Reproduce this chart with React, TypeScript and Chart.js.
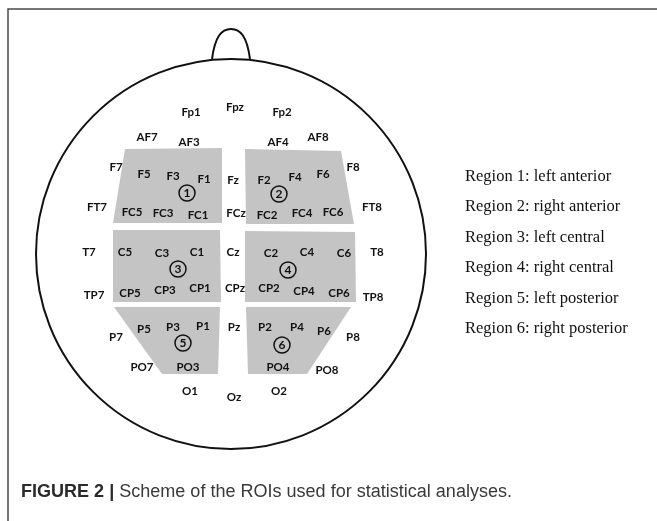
import React, { useEffect, useRef } from "react";
import { Chart, registerables } from "chart.js";

Chart.register(...registerables);

// Electrode montage (head-centred units, y up)
const electrodeNames = [
  "Fp1", "Fpz", "Fp2",
  "AF7", "AF3", "AF4", "AF8",
  "F7", "F5", "F3", "F1", "Fz", "F2", "F4", "F6", "F8",
  "FT7", "FC5", "FC3", "FC1", "FCz", "FC2", "FC4", "FC6", "FT8",
  "T7", "C5", "C3", "C1", "Cz", "C2", "C4", "C6", "T8",
  "TP7", "CP5", "CP3", "CP1", "CPz", "CP2", "CP4", "CP6", "TP8",
  "P7", "P5", "P3", "P1", "Pz", "P2", "P4", "P6", "P8",
  "PO7", "PO3", "PO4", "PO8",
  "O1", "Oz", "O2",
];
const electrodeX = [
  -40, 4, 51,
  -84, -42, 47, 87,
  -115, -87, -58, -27, 2, 33, 64, 92, 122,
  -134, -99, -68, -33, 5, 36, 71, 102, 141,
  -142, -106, -69, -34, 2, 40, 76, 113, 146,
  -137, -101, -66, -31, 4, 38, 73, 108, 142,
  -115, -87, -58, -28, 3, 34, 66, 93, 122,
  -89, -43, 47, 96,
  -41, 3, 48,
];
const electrodeY = [
  142, 147, 142,
  117, 112, 112, 117,
  87, 80, 78, 75, 74, 74, 77, 80, 87,
  47, 42, 41, 39, 41, 39, 41, 42, 47,
  2, 2, 1, 2, 2, 1, 2, 1, 2,
  -41, -39, -36, -34, -34, -34, -37, -39, -43,
  -83, -75, -73, -72, -73, -73, -73, -77, -83,
  -113, -113, -113, -116,
  -137, -143, -137,
];

// Regions of interest
const regionIds = ["1", "2", "3", "4", "5", "6"];
const regionMarkX = [-44, 48, -53, 57, -48, 51];
const regionMarkY = [61, 60, -15, -16, -89, -91];
const region1X = [-106, -9, -9, -118];
const region1Y = [105, 106, 31, 31];
const region2X = [14, 110, 123, 15];
const region2Y = [105, 103, 30, 30];
const region3X = [-118, -11, -10, -118];
const region3Y = [24, 24, -48, -48];
const region4X = [14, 124, 125, 14];
const region4Y = [23, 22, -48, -48];
const region5X = [-117, -11, -13, -69];
const region5Y = [-53, -53, -120, -120];
const region6X = [15, 120, 76, 17];
const region6Y = [-53, -53, -120, -120];
const legendLabels = [
  "Region 1: left anterior",
  "Region 2: right anterior",
  "Region 3: left central",
  "Region 4: right central",
  "Region 5: left posterior",
  "Region 6: right posterior",
];
const captionBold = "FIGURE 2 | ";
const captionText = "Scheme of the ROIs used for statistical analyses.";

// head outline
const headRadius = 195;
const noseHalfWidth = 19;
const noseTip = 225;

const zip = (xs: number[], ys: number[]) => xs.map((x, i) => ({ x, y: ys[i] }));

const regionPolys = [
  zip(region1X, region1Y),
  zip(region2X, region2Y),
  zip(region3X, region3Y),
  zip(region4X, region4Y),
  zip(region5X, region5Y),
  zip(region6X, region6Y),
];

const LABEL_FONT = "bold 11.5px Lato, 'Liberation Sans', sans-serif";

const drawPlugin = {
  id: "eegDraw",
  beforeDraw(chart: any) {
    const ctx = chart.ctx;
    ctx.save();
    ctx.fillStyle = "#ffffff";
    ctx.fillRect(0, 0, chart.width, chart.height);
    // frame
    ctx.strokeStyle = "#4a4a4a";
    ctx.lineWidth = 1.5;
    ctx.beginPath();
    ctx.moveTo(8, chart.height);
    ctx.lineTo(8, 9);
    ctx.lineTo(chart.width, 9);
    ctx.stroke();
    ctx.restore();
  },
  beforeDatasetsDraw(chart: any) {
    const ctx = chart.ctx;
    const xs = chart.scales.x;
    const ys = chart.scales.y;
    const cx = xs.getPixelForValue(0);
    const cy = ys.getPixelForValue(0);
    const rx = xs.getPixelForValue(headRadius) - cx;
    const ry = cy - ys.getPixelForValue(headRadius);
    ctx.save();
    ctx.strokeStyle = "#111";
    ctx.lineWidth = 2;
    ctx.beginPath();
    ctx.ellipse(cx, cy, rx, ry, 0, 0, Math.PI * 2);
    ctx.stroke();
    // nose
    const xl = xs.getPixelForValue(-noseHalfWidth);
    const xr = xs.getPixelForValue(noseHalfWidth);
    const yb = ys.getPixelForValue(headRadius);
    const yt = ys.getPixelForValue(noseTip);
    const h = yb - yt;
    const w = xr - xl;
    ctx.beginPath();
    ctx.moveTo(xl, yb);
    ctx.bezierCurveTo(xl + w * 0.08, yb - h * 0.75, xl + w * 0.25, yt, cx, yt);
    ctx.bezierCurveTo(xr - w * 0.25, yt, xr - w * 0.08, yb - h * 0.75, xr, yb);
    ctx.stroke();
    ctx.restore();
  },
  afterDatasetsDraw(chart: any) {
    const ctx = chart.ctx;
    ctx.save();
    ctx.fillStyle = "#111";
    ctx.textAlign = "center";
    ctx.textBaseline = "middle";
    ctx.font = LABEL_FONT;
    const eMeta = chart.getDatasetMeta(6);
    eMeta.data.forEach((pt: any, i: number) => {
      ctx.fillText(electrodeNames[i], pt.x, pt.y);
    });
    const rMeta = chart.getDatasetMeta(7);
    ctx.font = "bold 12px Lato, 'Liberation Sans', sans-serif";
    rMeta.data.forEach((pt: any, i: number) => {
      ctx.fillText(regionIds[i], pt.x, pt.y + 0.5);
    });
    ctx.restore();
  },
  afterDraw(chart: any) {
    const ctx = chart.ctx;
    ctx.save();
    // legend text
    ctx.fillStyle = "#111";
    ctx.textAlign = "left";
    ctx.textBaseline = "alphabetic";
    ctx.font = "16.5px 'Liberation Serif', 'Times New Roman', serif";
    legendLabels.forEach((t, i) => {
      ctx.fillText(t, 465, 181 + i * 30.4);
    });
    // caption
    const x0 = 21;
    const base = 497;
    const targetW = 491;
    ctx.font = "bold 18px 'Liberation Sans', Arial, sans-serif";
    const wb = ctx.measureText(captionBold).width;
    ctx.font = "18px 'Liberation Sans', Arial, sans-serif";
    const wt = ctx.measureText(captionText).width;
    const sx = targetW / (wb + wt);
    ctx.translate(x0, base);
    ctx.scale(sx, 1);
    ctx.font = "bold 18px 'Liberation Sans', Arial, sans-serif";
    ctx.fillStyle = "#2a2a2a";
    ctx.fillText(captionBold, 0, 0);
    ctx.font = "18px 'Liberation Sans', Arial, sans-serif";
    ctx.fillStyle = "#3a3a3a";
    ctx.fillText(captionText, wb, 0);
    ctx.restore();
  },
};

export default function App() {
  const ref = useRef<HTMLCanvasElement | null>(null);
  useEffect(() => {
    if (!ref.current) return;
    const polyDatasets = regionPolys.map((poly) => ({
      type: "line" as const,
      data: poly,
      showLine: true,
      fill: "shape",
      backgroundColor: "#c4c4c4",
      borderColor: "#c4c4c4",
      borderWidth: 0,
      pointRadius: 0,
      tension: 0,
      order: 5,
    }));
    const chart = new Chart(ref.current, {
      type: "scatter",
      data: {
        datasets: [
          ...polyDatasets,
          {
            data: zip(electrodeX, electrodeY),
            pointRadius: 0,
            showLine: false,
            order: 1,
          },
          {
            data: zip(regionMarkX, regionMarkY),
            pointRadius: 8,
            pointStyle: "circle",
            pointBorderColor: "#111",
            pointBorderWidth: 1.5,
            pointBackgroundColor: "rgba(0,0,0,0)",
            borderColor: "#111",
            borderWidth: 1.5,
            backgroundColor: "rgba(0,0,0,0)",
            showLine: false,
            order: 0,
          },
        ] as any,
      },
      options: {
        animation: false,
        responsive: false,
        devicePixelRatio: 1,
        layout: { padding: 0, autoPadding: false },
        plugins: {
          legend: { display: false },
          tooltip: { enabled: false },
        },
        events: [],
        scales: {
          x: { type: "linear", display: false, min: -231, max: 426 },
          y: { type: "linear", display: false, min: -267, max: 254 },
        },
      } as any,
      plugins: [drawPlugin],
    });
    return () => chart.destroy();
  }, []);
  return (
    <div style={{ position: "fixed", left: 0, top: 0, width: 657, height: 521, background: "#fff" }}>
      <canvas ref={ref} width={657} height={521} style={{ display: "block" }} />
    </div>
  );
}
